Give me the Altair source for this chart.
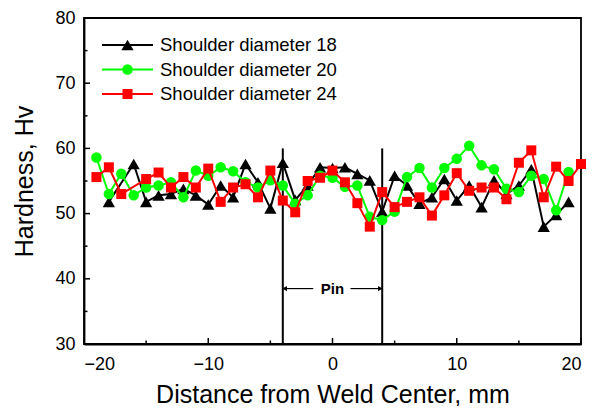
import altair as alt
import pandas as pd

# ---------------- data ----------------
series_names = ["Shoulder diameter 18", "Shoulder diameter 20", "Shoulder diameter 24"]
series_colors = ["#000000", "#00FF00", "#FF0000"]
series_shapes = ["triangle-up", "circle", "square"]
series_sizes = [150, 110, 100]

x18 = [-18, -16, -15, -14, -13, -12, -11, -10, -9, -8, -7, -6, -5, -4, -3, -2, -1, 0,
       1, 2, 3, 4, 5, 6, 7, 8, 9, 10, 11, 12, 13, 14, 15, 16, 17, 18, 19]
y18 = [51.8, 57.6, 51.8, 52.8, 53.0, 53.8, 52.8, 51.4, 54.3, 52.5, 57.6, 54.8, 50.8, 57.8,
       52.1, 54.3, 57.1, 57.0, 57.1, 56.1, 55.1, 50.3, 55.8, 54.3, 51.5, 52.5, 55.3, 52.0,
       54.3, 51.0, 55.1, 53.0, 54.3, 56.8, 48.0, 49.8, 51.8]

x20 = [-19, -18, -17, -16, -15, -14, -13, -12, -11, -10, -9, -8, -7, -6, -5, -4, -3, -2, -1, 0,
       1, 2, 3, 4, 5, 6, 7, 8, 9, 10, 11, 12, 13, 14, 15, 16, 17, 18, 19]
y20 = [58.6, 53.0, 56.1, 52.8, 54.0, 54.3, 54.8, 52.5, 56.6, 55.8, 57.1, 56.5, 54.8, 54.0,
       55.1, 54.3, 51.5, 52.8, 55.8, 55.5, 54.1, 54.3, 49.5, 49.0, 50.3, 55.6, 57.0, 54.0,
       57.0, 58.4, 60.4, 57.4, 56.8, 53.8, 53.3, 55.8, 55.3, 50.5, 56.4]

x24 = [-19, -18, -17, -15, -14, -13, -12, -11, -10, -9, -8, -7, -6, -5, -4, -3, -2, -1, 0,
       1, 2, 3, 4, 5, 6, 7, 8, 9, 10, 11, 12, 13, 14, 15, 16, 17, 18, 19, 20]
y24 = [55.6, 57.1, 53.0, 55.3, 56.3, 54.0, 55.6, 54.0, 56.9, 51.8, 54.0, 54.5, 52.5, 56.6,
       52.0, 50.2, 55.0, 55.5, 56.6, 54.8, 51.6, 48.0, 53.3, 51.0, 51.8, 52.5, 49.7, 52.8,
       56.2, 53.5, 54.0, 54.0, 52.2, 57.8, 59.7, 52.5, 57.2, 55.0, 57.6]

series_x = [x18, x20, x24]
series_y = [y18, y20, y24]

x_major = [-20, -10, 0, 10, 20]
x_minor = [-15, -5, 5, 15]
y_major = [30, 40, 50, 60, 70, 80]
y_minor = [35, 45, 55, 65, 75]

pin_edges = [-4, 4]
pin_top = 60
pin_label = "Pin"
pin_level = 38.5
arrow_left = [-3.85, -1.55]
arrow_right = [1.45, 3.85]

X_DOMAIN = [-20, 20]
Y_DOMAIN = [30, 80]
W, H = 497, 326
FONT = "Liberation Sans"

xs = alt.Scale(domain=X_DOMAIN, nice=False, zero=False)
ys = alt.Scale(domain=Y_DOMAIN, nice=False, zero=False)

x_axis = alt.Axis(values=x_major, title="Distance from Weld Center, mm", labelPadding=11,
                  titlePadding=9, format="d")
y_axis = alt.Axis(values=y_major, title="Hardness, Hv", labelPadding=9, titlePadding=17,
                  format="d")

layers = []

# pin vertical lines
pin_df = pd.DataFrame({"x": pin_edges, "y0": [Y_DOMAIN[0]] * 2, "y1": [pin_top] * 2})
layers.append(
    alt.Chart(pin_df).mark_rule(color="black", strokeWidth=2).encode(
        x=alt.X("x:Q", scale=xs, axis=x_axis),
        y=alt.Y("y0:Q", scale=ys, axis=y_axis),
        y2="y1:Q",
    )
)

# series
for name, col, shp, sz, xv, yv in zip(series_names, series_colors, series_shapes,
                                      series_sizes, series_x, series_y):
    df = pd.DataFrame({"x": xv, "y": yv})
    base = alt.Chart(df).encode(x=alt.X("x:Q", scale=xs), y=alt.Y("y:Q", scale=ys))
    layers.append(base.mark_line(color=col, strokeWidth=2))
    layers.append(base.mark_point(shape=shp, filled=True, color=col, size=sz, opacity=1))

# inward ticks
def xticks(vals, length):
    d = pd.DataFrame({"v": vals})
    return alt.Chart(d).mark_rule(color="black", strokeWidth=1.5).encode(
        x=alt.X("v:Q", scale=xs), y=alt.value(H), y2=alt.value(H - length))

def yticks(vals, length):
    d = pd.DataFrame({"v": vals})
    return alt.Chart(d).mark_rule(color="black", strokeWidth=1.5).encode(
        y=alt.Y("v:Q", scale=ys), x=alt.value(0), x2=alt.value(length))

layers += [xticks(x_major, 6), xticks(x_minor, 3.5), yticks(y_major, 6), yticks(y_minor, 3.5)]

# pin annotation
arr_df = pd.DataFrame({"a": [arrow_left[0], arrow_right[0]], "b": [arrow_left[1], arrow_right[1]],
                       "y": [pin_level, pin_level]})
layers.append(
    alt.Chart(arr_df).mark_rule(color="black", strokeWidth=1.2).encode(
        x=alt.X("a:Q", scale=xs), x2="b:Q", y=alt.Y("y:Q", scale=ys))
)
head_df = pd.DataFrame({"x": [arrow_left[0], arrow_right[1]], "y": [pin_level, pin_level],
                        "s": ["triangle-left", "triangle-right"]})
layers.append(
    alt.Chart(head_df).mark_point(filled=True, color="black", size=28, opacity=1).encode(
        x=alt.X("x:Q", scale=xs), y=alt.Y("y:Q", scale=ys),
        shape=alt.Shape("s:N", scale=alt.Scale(domain=["triangle-left", "triangle-right"],
                                                range=["triangle-left", "triangle-right"]),
                        legend=None))
)
txt_df = pd.DataFrame({"x": [0], "y": [pin_level], "t": [pin_label]})
layers.append(
    alt.Chart(txt_df).mark_text(font=FONT, fontSize=15, fontWeight="bold", color="black",
                                baseline="middle").encode(
        x=alt.X("x:Q", scale=xs), y=alt.Y("y:Q", scale=ys), text="t:N")
)

# legend (manual)
leg_rows = [27, 51.5, 76]
for name, col, shp, sz, ry in zip(series_names, series_colors, series_shapes, series_sizes, leg_rows):
    ld = pd.DataFrame({"label": [name]})
    lb = alt.Chart(ld)
    layers.append(lb.mark_rule(color=col, strokeWidth=2).encode(
        x=alt.value(18), x2=alt.value(69), y=alt.value(ry)))
    layers.append(lb.mark_point(shape=shp, filled=True, color=col, size=sz, opacity=1).encode(
        x=alt.value(43.5), y=alt.value(ry)))
    layers.append(lb.mark_text(font=FONT, fontSize=18.5, color="black", align="left",
                               baseline="middle").encode(
        x=alt.value(76), y=alt.value(ry), text="label:N"))

chart = alt.layer(*layers).properties(
    width=W, height=H,
    autosize=alt.AutoSizeParams(type="none"),
    padding={"left": 76, "top": 10, "right": 12, "bottom": 62},
).configure_view(
    stroke="black", strokeWidth=1.8
).configure_axis(
    labelFont=FONT, titleFont=FONT, labelFontSize=18, titleFontSize=25,
    titleFontWeight="normal", labelColor="black", titleColor="black",
    domainColor="black", domainWidth=1.8, tickSize=0, ticks=False, grid=False,
)

chart.save("out.html", embed_options={"renderer": "svg", "actions": False})
